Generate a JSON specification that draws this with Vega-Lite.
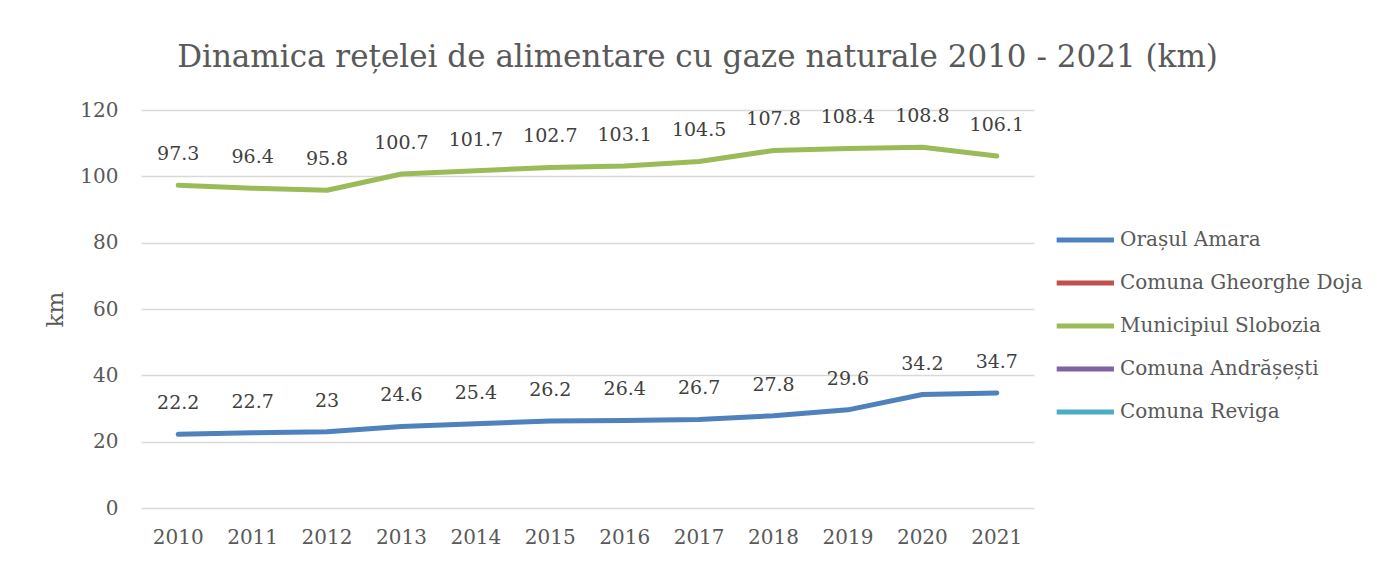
{
  "$schema": "https://vega.github.io/schema/vega-lite/v6.json",
  "width": 893,
  "height": 398,
  "autosize": {"type": "none"},
  "padding": {"left": 141, "top": 110, "right": 343, "bottom": 53},
  "background": "white",
  "title": {
    "text": "Dinamica rețelei de alimentare cu gaze naturale 2010 - 2021 (km)",
    "font": "DejaVu Serif",
    "fontSize": 31,
    "fontWeight": "normal",
    "color": "#595959",
    "anchor": "middle",
    "dx": 110,
    "offset": 26
  },
  "config": {
    "view": {"stroke": null},
    "font": "DejaVu Serif"
  },
  "data": {
    "values": [
      {"year": "2010", "series": "Orașul Amara", "km": 22.2},
      {"year": "2011", "series": "Orașul Amara", "km": 22.7},
      {"year": "2012", "series": "Orașul Amara", "km": 23},
      {"year": "2013", "series": "Orașul Amara", "km": 24.6},
      {"year": "2014", "series": "Orașul Amara", "km": 25.4},
      {"year": "2015", "series": "Orașul Amara", "km": 26.2},
      {"year": "2016", "series": "Orașul Amara", "km": 26.4},
      {"year": "2017", "series": "Orașul Amara", "km": 26.7},
      {"year": "2018", "series": "Orașul Amara", "km": 27.8},
      {"year": "2019", "series": "Orașul Amara", "km": 29.6},
      {"year": "2020", "series": "Orașul Amara", "km": 34.2},
      {"year": "2021", "series": "Orașul Amara", "km": 34.7},
      {"year": "2010", "series": "Municipiul Slobozia", "km": 97.3},
      {"year": "2011", "series": "Municipiul Slobozia", "km": 96.4},
      {"year": "2012", "series": "Municipiul Slobozia", "km": 95.8},
      {"year": "2013", "series": "Municipiul Slobozia", "km": 100.7},
      {"year": "2014", "series": "Municipiul Slobozia", "km": 101.7},
      {"year": "2015", "series": "Municipiul Slobozia", "km": 102.7},
      {"year": "2016", "series": "Municipiul Slobozia", "km": 103.1},
      {"year": "2017", "series": "Municipiul Slobozia", "km": 104.5},
      {"year": "2018", "series": "Municipiul Slobozia", "km": 107.8},
      {"year": "2019", "series": "Municipiul Slobozia", "km": 108.4},
      {"year": "2020", "series": "Municipiul Slobozia", "km": 108.8},
      {"year": "2021", "series": "Municipiul Slobozia", "km": 106.1}
    ]
  },
  "encoding": {
    "x": {
      "field": "year",
      "type": "ordinal",
      "scale": {"type": "band", "paddingInner": 0, "paddingOuter": 0},
      "axis": {
        "title": null,
        "labelAngle": 0,
        "labelFont": "DejaVu Serif",
        "labelFontSize": 20,
        "labelColor": "#595959",
        "labelPadding": 19,
        "ticks": false,
        "domain": false,
        "grid": false
      }
    },
    "y": {
      "field": "km",
      "type": "quantitative",
      "scale": {"domain": [0, 120], "nice": false},
      "axis": {
        "title": "km",
        "titleFont": "DejaVu Serif",
        "titleFontSize": 23,
        "titleFontWeight": "normal",
        "titleColor": "#595959",
        "titlePadding": 12,
        "values": [0, 20, 40, 60, 80, 100, 120],
        "labelFont": "DejaVu Serif",
        "labelFontSize": 20,
        "labelColor": "#595959",
        "labelPadding": 23,
        "ticks": false,
        "domain": false,
        "gridColor": "#d9d9d9",
        "gridWidth": 1.3
      }
    }
  },
  "layer": [
    {
      "mark": {"type": "line", "strokeWidth": 5, "strokeCap": "round", "strokeJoin": "round"},
      "encoding": {
        "color": {
          "field": "series",
          "type": "nominal",
          "scale": {
            "domain": ["Orașul Amara", "Comuna Gheorghe Doja", "Municipiul Slobozia", "Comuna Andrășești", "Comuna Reviga"],
            "range": ["#4f81bd", "#c0504d", "#9bbb59", "#8064a2", "#4bacc6"]
          },
          "legend": {
            "title": null,
            "orient": "none",
            "legendX": 913,
            "legendY": 113,
            "symbolType": "M-1,0H3",
            "symbolSize": 820,
            "symbolStrokeWidth": 5,
            "symbolOffset": 0,
            "labelFont": "DejaVu Serif",
            "labelFontSize": 20,
            "labelColor": "#595959",
            "labelOffset": 32,
            "rowPadding": 16,
            "labelLimit": 400
          }
        }
      }
    },
    {
      "mark": {"type": "text", "baseline": "middle", "dy": -31, "font": "DejaVu Serif", "fontSize": 19, "color": "#404040"},
      "encoding": {
        "text": {"field": "km", "type": "quantitative", "format": "~f"}
      }
    }
  ]
}
